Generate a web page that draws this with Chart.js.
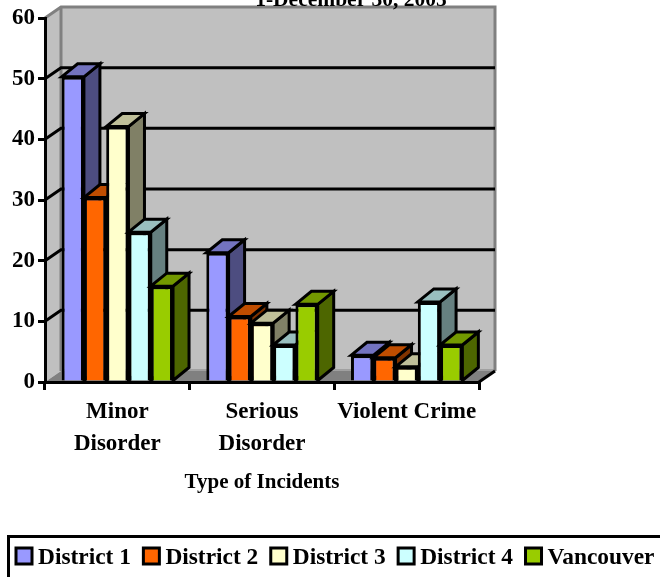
<!DOCTYPE html>
<html>
<head>
<meta charset="utf-8">
<style>
  html, body { margin: 0; padding: 0; background: #fff; overflow: hidden; }
  #wrap { width: 660px; height: 577px; }
</style>
<script src="https://cdn.jsdelivr.net/npm/chart.js@4"></script>
</head>
<body>
<div id="wrap"><canvas id="graph" width="660" height="577"></canvas></div>
<script>
const categories = [['Minor', 'Disorder'], ['Serious', 'Disorder'], 'Violent Crime'];
const district1 = [50.3, 21.3, 4.4];
const district2 = [30.4, 10.8, 4];
const district3 = [42.1, 9.7, 2.5];
const district4 = [24.7, 6.1, 13.2];
const vancouver = [15.8, 12.8, 6.1];
const seriesNames = ['District 1', 'District 2', 'District 3', 'District 4', 'Vancouver'];
const frontColors = ['#9999ff', '#ff6600', '#ffffcc', '#ccffff', '#99cc00'];
const sideColors = ['#4d4d80', '#803300', '#808066', '#668080', '#4d6600'];
const topColors = ['#7373bf', '#bf4d00', '#bfbf99', '#99bfbf', '#739900'];
const titleText = '1-December 30, 2005';
const axisTitle = 'Type of Incidents';

const serif = '"Liberation Serif", "Times New Roman", serif';
const wallDx = 16, wallDy = -11;   // depth of the walls
const barDx = 16, barDy = -13;     // depth of the bars
const lineW = 3;

function poly(ctx, pts, fill, stroke, lw) {
  ctx.beginPath();
  pts.forEach((p, i) => i ? ctx.lineTo(p[0], p[1]) : ctx.moveTo(p[0], p[1]));
  ctx.closePath();
  if (fill) { ctx.fillStyle = fill; ctx.fill(); }
  if (stroke) { ctx.strokeStyle = stroke; ctx.lineWidth = lw; ctx.lineJoin = 'miter'; ctx.stroke(); }
}

// fake 3d: walls, floor, back gridlines, bar sides, plus the legend and clipped title
const fake3d = {
  id: 'fake3d',
  beforeDraw(chart) {
    const ctx = chart.ctx, a = chart.chartArea;
    const l = a.left, r = a.right, t = a.top, b = a.bottom;
    poly(ctx, [[l + wallDx, t + wallDy], [r + wallDx, t + wallDy], [r + wallDx, b + wallDy], [l + wallDx, b + wallDy]], '#c0c0c0');
    poly(ctx, [[l, t], [l + wallDx, t + wallDy], [l + wallDx, b + wallDy], [l, b]], '#c0c0c0');
    poly(ctx, [[l, b], [l + wallDx, b + wallDy], [r + wallDx, b + wallDy], [r, b]], '#808080');
    ctx.fillStyle = '#a0a0a0';
    ctx.fillRect(l + wallDx, b + wallDy - 2, r - l, 2);
    ctx.strokeStyle = '#808080';
    ctx.lineWidth = lineW;
    ctx.beginPath();
    ctx.moveTo(l, t);
    ctx.lineTo(l + wallDx, t + wallDy);
    ctx.lineTo(r + wallDx, t + wallDy);
    ctx.lineTo(r + wallDx, b + wallDy);
    ctx.moveTo(l + wallDx, t + wallDy);
    ctx.lineTo(l + wallDx, b + wallDy);
    ctx.stroke();
  },
  beforeDatasetsDraw(chart) {
    const ctx = chart.ctx, a = chart.chartArea, y = chart.scales.y;
    ctx.save();
    ctx.strokeStyle = '#000';
    ctx.lineWidth = lineW;
    y.ticks.forEach(tk => {
      const py = y.getPixelForValue(tk.value);
      if (tk.value === 60) return;
      ctx.beginPath();
      if (tk.value > 0) {
        ctx.moveTo(a.left, py);
        ctx.lineTo(a.left + wallDx, py + wallDy);
        ctx.lineTo(a.right + wallDx, py + wallDy);
      } else {
        ctx.moveTo(a.right, py);
        ctx.lineTo(a.right + wallDx, py + wallDy);
      }
      ctx.stroke();
    });
    ctx.restore();

    // chart.js paints the last dataset first, here District 1 has to go first
    // so the next series' front covers its side
    series.forEach((values, i) => {
      const meta = chart.getDatasetMeta(i);
      meta.data.forEach(bar => {
        const x0 = bar.x - bar.width / 2, x1 = bar.x + bar.width / 2;
        poly(ctx, [[x1, bar.y], [x1 + barDx, bar.y + barDy], [x1 + barDx, bar.base + barDy], [x1, bar.base]], sideColors[i], '#000', lineW);
        poly(ctx, [[x0, bar.y], [x0 + barDx, bar.y + barDy], [x1 + barDx, bar.y + barDy], [x1, bar.y]], topColors[i], '#000', lineW);
      });
      meta.controller.draw();
    });
  },
  beforeDatasetDraw() {
    return false;   // already drawn above
  },
  afterDraw(chart) {
    const ctx = chart.ctx;
    ctx.save();
    ctx.fillStyle = '#000';
    ctx.textBaseline = 'alphabetic';
    ctx.font = 'bold 21.5px ' + serif;
    ctx.textAlign = 'center';
    ctx.fillText(titleText, 351, 6);

    // legend frame runs off the right and bottom of the picture
    ctx.strokeStyle = '#000';
    ctx.lineWidth = lineW;
    ctx.strokeRect(8.5, 536.5, 700, 80);
    ctx.font = 'bold 23.4px ' + serif;
    ctx.textAlign = 'left';
    let x = 16;
    seriesNames.forEach((name, i) => {
      ctx.fillStyle = frontColors[i];
      ctx.fillRect(x, 548, 16, 16);
      ctx.strokeRect(x, 548, 16, 16);
      ctx.fillStyle = '#000';
      ctx.fillText(name, x + 22, 564);
      x += 22 + ctx.measureText(name).width + 12.5;
    });
    ctx.restore();
  }
};

const series = [district1, district2, district3, district4, vancouver];

new Chart(document.getElementById('graph'), {
  type: 'bar',
  data: {
    labels: categories,
    datasets: series.map((values, i) => ({
      label: seriesNames[i],
      data: values,
      backgroundColor: frontColors[i],
      borderColor: '#000',
      borderWidth: lineW
    }))
  },
  options: {
    responsive: false,
    animation: false,
    layout: { padding: { left: 0, top: 18, right: 181, bottom: 82 } },
    plugins: { legend: { display: false }, title: { display: false }, tooltip: { enabled: false } },
    datasets: { bar: { categoryPercentage: 0.77, barPercentage: 1 } },
    scales: {
      x: {
        afterFit(scale) { scale.height = 113; },
        border: { color: '#000', width: lineW },
        grid: { drawOnChartArea: false, color: '#000', lineWidth: lineW, tickLength: 8, offset: true },
        ticks: {
          color: '#000', padding: 7, maxRotation: 0, autoSkip: false,
          font: { family: serif, size: 23, weight: 'bold', lineHeight: 1.35 }
        },
        title: {
          display: true, text: axisTitle, color: '#000', padding: 0,
          font: { family: serif, size: 21, weight: 'bold' }
        }
      },
      y: {
        min: 0,
        max: 60,
        afterFit(scale) { scale.width = 45; },
        border: { color: '#000', width: lineW },
        grid: { drawOnChartArea: false, color: '#000', lineWidth: lineW, tickLength: 7 },
        ticks: {
          stepSize: 10, color: '#000', padding: 3,
          font: { family: serif, size: 23, weight: 'bold' }
        }
      }
    }
  },
  plugins: [fake3d]
});
</script>
</body>
</html>
